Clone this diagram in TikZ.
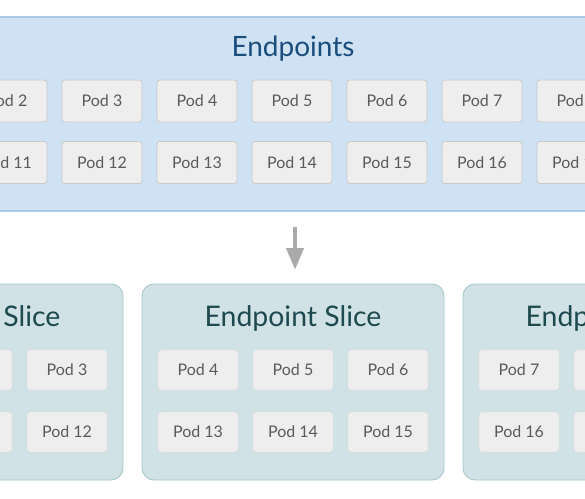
\documentclass[tikz,border=0pt]{standalone}
\usepackage{fontspec}
\setmainfont{Lato}
\usepackage{tikz}
\usetikzlibrary{arrows.meta,positioning,calc}
\definecolor{epfill}{HTML}{CFE2F3}
\definecolor{epborder}{HTML}{A9C8E6}
\definecolor{eptext}{HTML}{1B4D7C}
\definecolor{slfill}{HTML}{D0E2E5}
\definecolor{slborder}{HTML}{A8C8CC}
\definecolor{sltext}{HTML}{1E4A4F}
\definecolor{podfill}{HTML}{EEEEEE}
\definecolor{podborder}{HTML}{C9C9C9}
\definecolor{podtext}{HTML}{5A5A5A}
\definecolor{arrowgrey}{HTML}{AAAAAA}

\begin{document}
\begin{tikzpicture}[x=0.75pt,y=-0.75pt,
  podbox/.style={fill=podfill, rounded corners=2.25pt, minimum width=60pt, inner sep=0pt,
    text=podtext, font=\fontsize{12}{14}\selectfont},
  toppod/.style={podbox, draw=podborder, line width=0.6pt, minimum height=31.5pt},
  slicepod/.style={podbox, draw=podfill!92!black, line width=0.3pt, minimum height=30pt},
  slicebox/.style={fill=slfill, draw=slborder, line width=0.7pt, rounded corners=9pt,
    minimum width=226.5pt, minimum height=147pt, inner sep=0pt},
  slicetitle/.style={text=sltext, font=\fontsize{21.3}{24}\selectfont},
  flowarrow/.style={draw=arrowgrey, line width=2.4pt, -{Triangle[length=16pt,width=13pt]}}]
\def\podgap{95}
\useasboundingbox (0,0) rectangle (585,499);
\clip (0,0) rectangle (585,499);

% all pods
\node[fill=epfill, draw=epborder, line width=0.8pt, minimum width=500pt, minimum height=145.5pt,
  inner sep=0pt] (endpoints) at (292.5,114) {};
\node[text=eptext, font=\fontsize{21}{24}\selectfont] (eptitle) at (293,49) {Endpoints};
\foreach \n in {2,...,8}{
  \pgfmathsetmacro{\px}{102+(\n-3)*\podgap}
  \pgfmathtruncatemacro{\m}{\n+9}
  \node[toppod] (top\n) at (\px,101) {Pod \n};
  \node[toppod] (top\m) at (\px,162.5) {Pod \m};
}

% three slices
\foreach \s/\cx/\first in {1/-28/1, 2/293/4, 3/614/7}{
  \node[slicebox] (slice\s) at (\cx,382) {};
  \node[slicetitle] (slicetitle\s) at (\cx,318) {Endpoint Slice};
  \foreach \k in {0,1,2}{
    \pgfmathsetmacro{\px}{\cx+(\k-1)*\podgap}
    \pgfmathtruncatemacro{\a}{\first+\k}
    \pgfmathtruncatemacro{\b}{\first+\k+9}
    \node[slicepod] (pod\a) at (\px,370) {Pod \a};
    \node[slicepod] (pod\b) at (\px,432) {Pod \b};
  }
}

\draw[flowarrow, shorten <=11.25pt, shorten >=10.5pt]
  ([xshift=1.9pt]endpoints.south) -- ([xshift=1.9pt]endpoints.south |- slice2.north);
\end{tikzpicture}
\end{document}
